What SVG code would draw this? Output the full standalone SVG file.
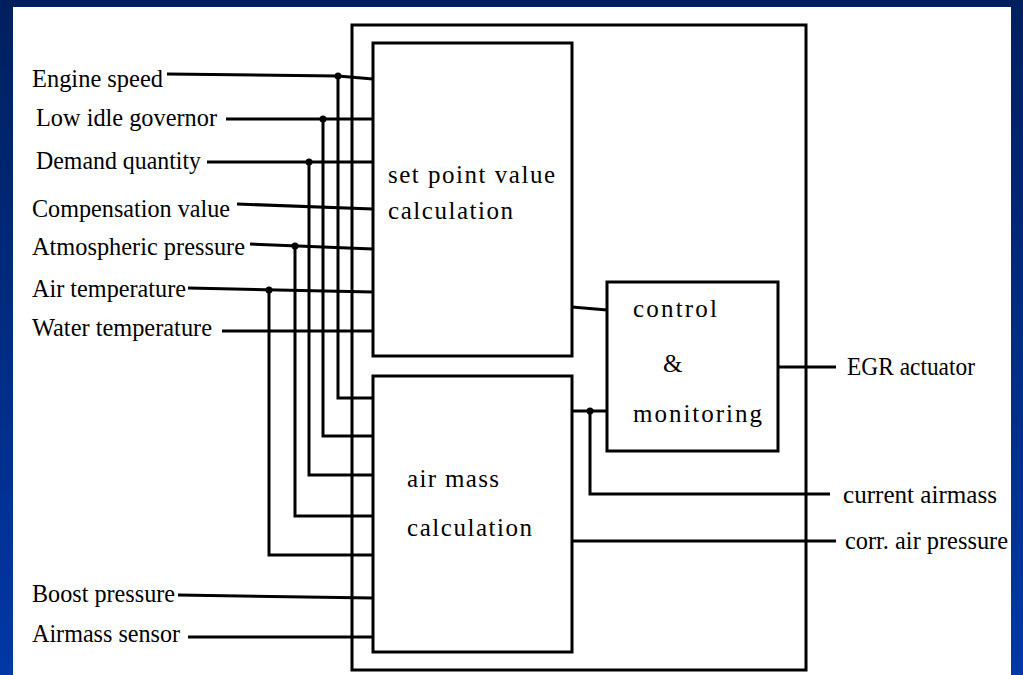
<svg xmlns="http://www.w3.org/2000/svg" width="1023" height="675" viewBox="0 0 1023 675">
<defs>
<linearGradient id="bg" x1="0" y1="0" x2="0" y2="1">
<stop offset="0" stop-color="#001f5e"/>
<stop offset="1" stop-color="#0038a6"/>
</linearGradient>
</defs>
<style>
.box{fill:#fff;stroke:#000;stroke-width:3}
.ln{fill:none;stroke:#000;stroke-width:3}
.dot{fill:#000}
text{font-family:"Liberation Serif","Times New Roman",serif;fill:#000;font-size:25px}
.blk{font-size:25px}
.lbl{font-size:25px}
</style>
<rect x="0" y="0" width="1023" height="675" fill="url(#bg)"/>
<rect x="13" y="7" width="998" height="668" fill="#fff"/>

<g id="outer"><rect class="box" x="352" y="25" width="454" height="645"/></g>

<g id="connectors">
<polyline class="ln" points="167,74 338,76 373,79"/>
<line class="ln" x1="226" y1="119" x2="373" y2="119"/>
<line class="ln" x1="207" y1="162" x2="373" y2="162"/>
<line class="ln" x1="237" y1="204" x2="373" y2="209"/>
<line class="ln" x1="250" y1="244" x2="373" y2="249"/>
<line class="ln" x1="188" y1="288" x2="373" y2="292"/>
<line class="ln" x1="222" y1="331" x2="373" y2="331"/>
<polyline class="ln" points="338,76 338,398 373,398"/>
<polyline class="ln" points="323,119 323,436 373,436"/>
<polyline class="ln" points="309,162 309,475 373,475"/>
<polyline class="ln" points="295,246 295,516 373,516"/>
<polyline class="ln" points="269,290 269,555 373,555"/>
<line class="ln" x1="178" y1="595" x2="373" y2="598"/>
<line class="ln" x1="188" y1="637" x2="373" y2="637"/>
<line class="ln" x1="572" y1="307" x2="607" y2="310"/>
<line class="ln" x1="572" y1="411" x2="607" y2="411"/>
<polyline class="ln" points="590,411 590,494 830,494"/>
<line class="ln" x1="778" y1="367" x2="836" y2="367"/>
<line class="ln" x1="572" y1="541" x2="836" y2="541"/>
<circle class="dot" cx="338" cy="76" r="3.5"/>
<circle class="dot" cx="323" cy="119" r="3.5"/>
<circle class="dot" cx="309" cy="162" r="3.5"/>
<circle class="dot" cx="295" cy="246" r="3.5"/>
<circle class="dot" cx="269" cy="290" r="3.5"/>
<circle class="dot" cx="590" cy="411" r="3.5"/>
</g>

<g id="setpoint">
<rect class="box" x="373" y="43" width="199" height="313"/>
<text class="blk" x="388" y="183" textLength="167" lengthAdjust="spacing">set point value</text>
<text class="blk" x="388" y="219" textLength="125" lengthAdjust="spacing">calculation</text>
</g>

<g id="airmass">
<rect class="box" x="373" y="376" width="199" height="276"/>
<text class="blk" x="407" y="487" textLength="92" lengthAdjust="spacing">air mass</text>
<text class="blk" x="407" y="536" textLength="125" lengthAdjust="spacing">calculation</text>
</g>

<g id="control">
<rect class="box" x="607" y="282" width="171" height="169"/>
<text class="blk" x="633" y="317" textLength="84" lengthAdjust="spacing">control</text>
<text class="blk" x="663" y="372">&amp;</text>
<text class="blk" x="633" y="422" textLength="129" lengthAdjust="spacing">monitoring</text>
</g>

<g id="inputs">
<text class="lbl" x="32" y="87" textLength="131" lengthAdjust="spacingAndGlyphs">Engine speed</text>
<text class="lbl" x="36" y="126" textLength="181" lengthAdjust="spacingAndGlyphs">Low idle governor</text>
<text class="lbl" x="36" y="169" textLength="165" lengthAdjust="spacingAndGlyphs">Demand quantity</text>
<text class="lbl" x="32" y="217" textLength="198" lengthAdjust="spacingAndGlyphs">Compensation value</text>
<text class="lbl" x="32" y="255" textLength="213" lengthAdjust="spacingAndGlyphs">Atmospheric pressure</text>
<text class="lbl" x="32" y="297" textLength="154" lengthAdjust="spacingAndGlyphs">Air temperature</text>
<text class="lbl" x="32" y="336" textLength="180" lengthAdjust="spacingAndGlyphs">Water temperature</text>
<text class="lbl" x="32" y="602" textLength="143" lengthAdjust="spacingAndGlyphs">Boost pressure</text>
<text class="lbl" x="32" y="642" textLength="148" lengthAdjust="spacingAndGlyphs">Airmass sensor</text>
</g>

<g id="outputs">
<text class="lbl" x="847" y="375" textLength="128" lengthAdjust="spacingAndGlyphs">EGR actuator</text>
<text class="lbl" x="843" y="503" textLength="154" lengthAdjust="spacingAndGlyphs">current airmass</text>
<text class="lbl" x="845" y="549" textLength="163" lengthAdjust="spacingAndGlyphs">corr. air pressure</text>
</g>
</svg>
